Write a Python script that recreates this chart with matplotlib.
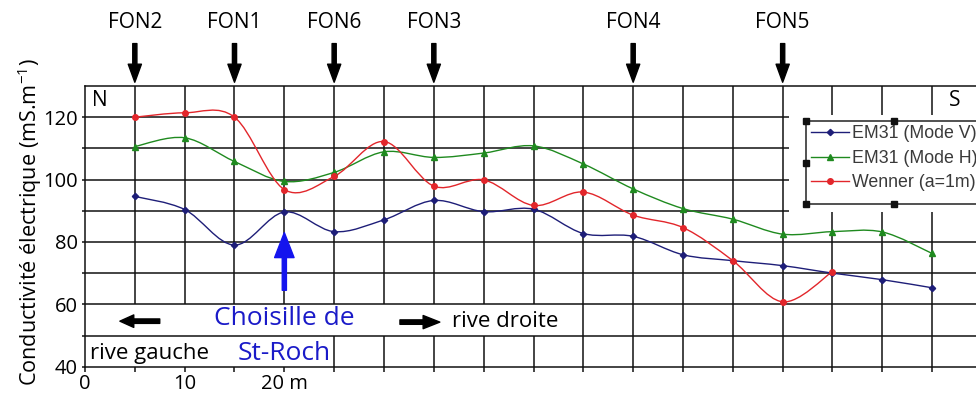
import numpy as np
import matplotlib
matplotlib.use("Agg")
import matplotlib.pyplot as plt
from matplotlib.path import Path
from matplotlib.patches import PathPatch, Rectangle
from matplotlib.lines import Line2D

plt.rcParams['font.family'] = ['Open Sans', 'DejaVu Sans']
plt.rcParams['mathtext.fontset'] = 'custom'
plt.rcParams['mathtext.rm'] = 'Open Sans'

# Distance along the profile (m)
x_em = [5, 10, 15, 20, 25, 30, 35, 40, 45, 50, 55, 60, 65, 70, 75, 80, 85]
em31_v = [94.6, 90.4, 79.0, 89.6, 83.3, 87.1, 93.3, 89.7, 90.5, 82.7, 81.8,
          75.9, 74.0, 72.4, 70.0, 67.9, 65.3]
em31_h = [110.6, 113.4, 105.8, 99.4, 102.3, 108.9, 107.1, 108.5, 110.8, 105.0,
          97.0, 90.7, 87.3, 82.5, 83.3, 83.2, 76.3]
x_wen = [5, 10, 15, 20, 25, 30, 35, 40, 45, 50, 55, 60, 65, 70, 75]
wenner = [120.0, 121.4, 120.0, 96.8, 101.0, 112.2, 97.9, 99.9, 91.7, 96.0,
          88.6, 84.6, 74.0, 60.8, 70.5]

series_names = ['EM31 (Mode V)', 'EM31 (Mode H)', 'Wenner (a=1m)']
series_colors = ['#1e1e78', '#1f8a1f', '#e2262b']
series_markers = ['D', '^', 'o']

# Boreholes
fon_names = ['FON2', 'FON1', 'FON6', 'FON3', 'FON4', 'FON5']
fon_x = [5, 15, 25, 35, 55, 70]

xtick_pos = list(range(0, 90, 5))
xtick_labels = ['0', '', '10', '', '20 m'] + [''] * 13
ytick_pos = [40, 60, 80, 100, 120]
ytick_labels = ['40', '60', '80', '100', '120']

MARKER_SIZE = {'D': 3.2, '^': 5.0, 'o': 4.0}


def smooth_path(xs, ys):
    """Cubic Bezier path through the points (Catmull-Rom tangents)."""
    pts = np.column_stack([xs, ys]).astype(float)
    n = len(pts)
    verts = [pts[0]]
    codes = [Path.MOVETO]
    for i in range(n - 1):
        p0 = pts[i - 1] if i > 0 else pts[i]
        p1 = pts[i]
        p2 = pts[i + 1]
        p3 = pts[i + 2] if i + 2 < n else pts[i + 1]
        c1 = p1 + (p2 - p0) / 6.0
        c2 = p2 - (p3 - p1) / 6.0
        verts += [c1, c2, p2]
        codes += [Path.CURVE4] * 3
    return Path(verts, codes)


W, H = 976, 401
fig = plt.figure(figsize=(W / 100, H / 100), dpi=100)
ax = fig.add_axes([85 / W, (H - 366.7) / H, (982 - 85) / W, (366.7 - 86) / H])
ax.set_xlim(0, 90)
ax.set_ylim(40, 130)

grid_kw = dict(color='#111111', lw=1.1)
for xv in range(5, 90, 5):
    ax.axvline(xv, zorder=1, **grid_kw)
for yv in range(50, 130, 10):
    ax.axhline(yv, zorder=2, **grid_kw)

# white label bands in the lower rows
ax.add_patch(Rectangle((0, 50), 49.3, 10, facecolor='white', edgecolor='none', zorder=1.5))
ax.add_patch(Rectangle((0, 40), 24.6, 10, facecolor='white', edgecolor='none', zorder=1.5))

for sp in ['left', 'bottom', 'top']:
    ax.spines[sp].set_linewidth(1.1)
    ax.spines[sp].set_color('#111111')
    ax.spines[sp].set_zorder(4)
ax.spines['right'].set_visible(False)

ax.set_xticks(xtick_pos)
ax.set_xticklabels(xtick_labels)
ax.set_yticks(ytick_pos)
ax.set_yticklabels(ytick_labels)
ax.set_yticks(range(40, 130, 10), minor=True)
ax.tick_params(axis='x', direction='out', length=3.6, width=1.1, pad=1.5,
               labelsize=14.5, color='#111111')
ax.tick_params(axis='y', which='both', direction='out', length=2, width=1.1,
               pad=3, labelsize=14.5, color='#111111')

# measurement curves
datasets = [(x_em, em31_v), (x_em, em31_h), (x_wen, wenner)]
for (xs, ys), c, m in zip(datasets, series_colors, series_markers):
    ax.add_patch(PathPatch(smooth_path(xs, ys), facecolor='none', edgecolor=c,
                           lw=1.0, zorder=3))
    ax.plot(xs, ys, linestyle='none', marker=m, ms=MARKER_SIZE[m], color=c, mec=c,
            zorder=3.5)

# legend area
ax.add_patch(Rectangle((70.65, 89.5), 25, 31.2, facecolor='white', edgecolor='none', zorder=5))
ax.add_patch(Rectangle((72.35, 92.05), 25, 26.75, facecolor='none', edgecolor='#222222',
                       lw=1.1, zorder=6, clip_on=False))
handles = [Line2D([], [], color=c, marker=m, lw=1.0, ms=MARKER_SIZE[m])
           for c, m in zip(series_colors, series_markers)]
leg = ax.legend(handles, series_names, loc='upper left',
                bbox_to_anchor=(72.35 / 90, (118.8 - 40) / 90), borderaxespad=0,
                frameon=False, borderpad=0.25, handlelength=2.15, handletextpad=0.2,
                labelspacing=0.42, prop={'family': 'Liberation Sans', 'size': 12.8})
for t in leg.get_texts():
    t.set_color('#3a3a3a')
leg.set_zorder(7)
# selection handles on the legend frame
ax.plot([72.35, 72.35, 72.35], [118.8, 105.4, 92.05], linestyle='none', marker='s',
        ms=5, color='#111111', zorder=8, clip_on=False)
ax.plot([81.2, 81.2], [118.8, 92.05], linestyle='none', marker='s', ms=5,
        color='#111111', zorder=8, clip_on=False)

# borehole markers
for name, xv in zip(fon_names, fon_x):
    ax.annotate('', xy=(xv, 131.2), xytext=(xv, 143.6), xycoords='data',
                annotation_clip=False,
                arrowprops=dict(width=3.0, headwidth=9.5, headlength=13, color='black',
                                shrink=0))
    ax.text(xv, 150.2, name, ha='center', va='center', fontsize=15, clip_on=False)

# river location
ax.annotate('', xy=(20, 83.0), xytext=(20, 64.5), annotation_clip=False,
            arrowprops=dict(width=3.0, headwidth=14, headlength=18, color='#1414ee',
                            shrink=0), zorder=4)
ax.text(20, 55.4, 'Choisille de', ha='center', va='center', fontsize=19,
        color='#1a1ac8', zorder=4)
ax.text(20, 44.2, 'St-Roch', ha='center', va='center', fontsize=19,
        color='#1a1ac8', zorder=4)

# bank directions
ax.annotate('', xy=(3.5, 54.6), xytext=(7.5, 54.6), annotation_clip=False,
            arrowprops=dict(width=3.2, headwidth=9, headlength=10, color='black',
                            shrink=0), zorder=4)
ax.text(0.5, 44.2, 'rive gauche', ha='left', va='center', fontsize=16, zorder=4)
ax.annotate('', xy=(35.6, 54.3), xytext=(31.6, 54.3), annotation_clip=False,
            arrowprops=dict(width=3.2, headwidth=9.5, headlength=12, color='black',
                            shrink=0), zorder=4)
ax.text(36.8, 54.6, 'rive droite', ha='left', va='center', fontsize=16, zorder=4)

ax.text(1.5, 125.5, 'N', ha='center', va='center', fontsize=15)
ax.text(87.3, 125.5, 'S', ha='center', va='center', fontsize=15, clip_on=False)

fig.text(30 / W, (H - 222) / H, r'Conductivité électrique (mS.m$^{-1}$)',
         rotation=90, ha='center', va='center', fontsize=15.6)

fig.savefig('out.png', dpi=100, facecolor='white')
